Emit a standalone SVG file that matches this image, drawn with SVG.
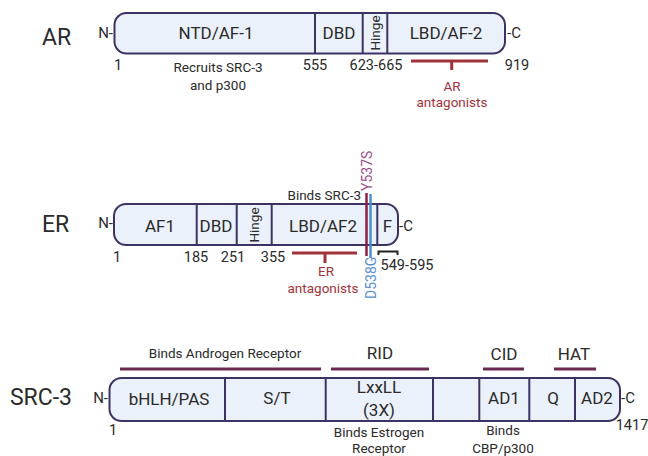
<svg xmlns="http://www.w3.org/2000/svg" width="648" height="456" viewBox="0 0 648 456">
<style>
text{font-family:Roboto,"Liberation Sans",sans-serif;fill:#2a2a2a}
.big{font-size:23px}
.dom{font-size:17px;text-anchor:middle}
.sm{font-size:13.5px;text-anchor:middle}
.num{font-size:14.5px;text-anchor:middle}
.term{font-size:15px}
.box{fill:#eaf1fb;stroke:#3d3264;stroke-width:2}
.div{stroke:#3d3264;stroke-width:2}
.red{fill:#a3323b}
.redl{stroke:#a3323b;stroke-width:3;fill:none}
.mar{stroke:#6c2851;stroke-width:3}
.hdr{font-size:17px;text-anchor:middle}
</style>
<rect width="648" height="456" fill="#fff"/>

<g id="AR">
<text class="big" x="42" y="45">AR</text>
<text class="term" x="113" y="38" text-anchor="end">N-</text>
<rect class="box" x="114.5" y="13" width="390.5" height="40.5" rx="12"/>
<line class="div" x1="315" y1="13" x2="315" y2="53.5"/>
<line class="div" x1="362.7" y1="13" x2="362.7" y2="53.5"/>
<line class="div" x1="387.3" y1="13" x2="387.3" y2="53.5"/>
<text class="dom" x="216" y="39">NTD/AF-1</text>
<text class="dom" x="339" y="39">DBD</text>
<text class="sm" transform="translate(380,33) rotate(-90)" text-anchor="middle" x="0" y="0">Hinge</text>
<text class="dom" x="446" y="39">LBD/AF-2</text>
<text class="term" x="507" y="38">-C</text>
<text class="num" x="118" y="70">1</text>
<text class="sm" x="218" y="72">Recruits SRC-3</text>
<text class="sm" x="218" y="90">and p300</text>
<text class="num" x="315" y="70">555</text>
<text class="num" x="376" y="70">623-665</text>
<text class="num" x="517" y="70">919</text>
<path class="redl" d="M411 61H488M451.7 61V70"/>
<text class="sm red" x="452" y="91">AR</text>
<text class="sm red" x="452" y="107">antagonists</text>
</g>

<g id="ER">
<text class="big" x="42" y="232">ER</text>
<text class="term" x="113" y="228" text-anchor="end">N-</text>
<rect class="box" x="114" y="204" width="284" height="41" rx="12"/>
<line class="div" x1="196.7" y1="204" x2="196.7" y2="245"/>
<line class="div" x1="236.7" y1="204" x2="236.7" y2="245"/>
<line class="div" x1="271.7" y1="204" x2="271.7" y2="245"/>
<line class="div" x1="377.3" y1="204" x2="377.3" y2="245"/>
<text class="dom" x="160" y="232">AF1</text>
<text class="dom" x="216" y="232">DBD</text>
<text class="sm" transform="translate(259,225) rotate(-90)" text-anchor="middle">Hinge</text>
<text class="dom" x="323" y="232">LBD/AF2</text>
<text class="dom" x="387.5" y="232">F</text>
<text class="term" x="399" y="231">-C</text>
<line x1="366.5" y1="193" x2="366.5" y2="256" stroke="#8e1f3f" stroke-width="2.5"/>
<line x1="370.5" y1="194" x2="370.5" y2="258" stroke="#4b8fd1" stroke-width="2.5"/>
<text class="sm" x="361" y="200" style="text-anchor:end">Binds SRC-3</text>
<text class="term" transform="translate(372,191) rotate(-90)" style="fill:#a04d8a;font-size:14px">Y537S</text>
<text class="term" transform="translate(376,299) rotate(-90)" style="fill:#5a8fcf;font-size:14px">D538G</text>
<text class="num" x="117" y="262">1</text>
<text class="num" x="196" y="262">185</text>
<text class="num" x="233" y="262">251</text>
<text class="num" x="273" y="262">355</text>
<path class="redl" d="M292 253H357M325 253V263"/>
<text class="sm red" x="326" y="276">ER</text>
<text class="sm red" x="323" y="293">antagonists</text>
<path d="M378.5 255V251.5H397.5V255" fill="none" stroke="#222" stroke-width="2"/>
<text class="num" x="407" y="270">549-595</text>
</g>

<g id="SRC3">
<text class="big" x="72" y="405" text-anchor="end">SRC-3</text>
<text class="term" x="108" y="403" text-anchor="end">N-</text>
<rect class="box" x="109.5" y="378" width="510.5" height="43" rx="12"/>
<line class="div" x1="225" y1="378" x2="225" y2="421"/>
<line class="div" x1="325.7" y1="378" x2="325.7" y2="421"/>
<line class="div" x1="433" y1="378" x2="433" y2="421"/>
<line class="div" x1="479.3" y1="378" x2="479.3" y2="421"/>
<line class="div" x1="529.3" y1="378" x2="529.3" y2="421"/>
<line class="div" x1="575" y1="378" x2="575" y2="421"/>
<text class="dom" x="169" y="405">bHLH/PAS</text>
<text class="dom" x="277" y="404">S/T</text>
<text class="dom" x="379" y="393">LxxLL</text>
<text class="dom" x="379" y="416">(3X)</text>
<text class="dom" x="504" y="404">AD1</text>
<text class="dom" x="553" y="404">Q</text>
<text class="dom" x="597" y="404">AD2</text>
<text class="term" x="621" y="403">-C</text>
<text class="num" x="113" y="435">1</text>
<text class="num" x="632" y="430">1417</text>
<text class="sm" x="379" y="437">Binds Estrogen</text>
<text class="sm" x="379" y="453">Receptor</text>
<text class="sm" x="503" y="435">Binds</text>
<text class="sm" x="503" y="453">CBP/p300</text>
<line class="mar" x1="120" y1="369" x2="321" y2="369"/>
<line class="mar" x1="331" y1="369" x2="429" y2="369"/>
<line class="mar" x1="483" y1="369" x2="524" y2="369"/>
<line class="mar" x1="554" y1="369" x2="596" y2="369"/>
<text class="sm" x="225" y="358">Binds Androgen Receptor</text>
<text class="hdr" x="380" y="359">RID</text>
<text class="hdr" x="504" y="360">CID</text>
<text class="hdr" x="574" y="360">HAT</text>
</g>
</svg>
